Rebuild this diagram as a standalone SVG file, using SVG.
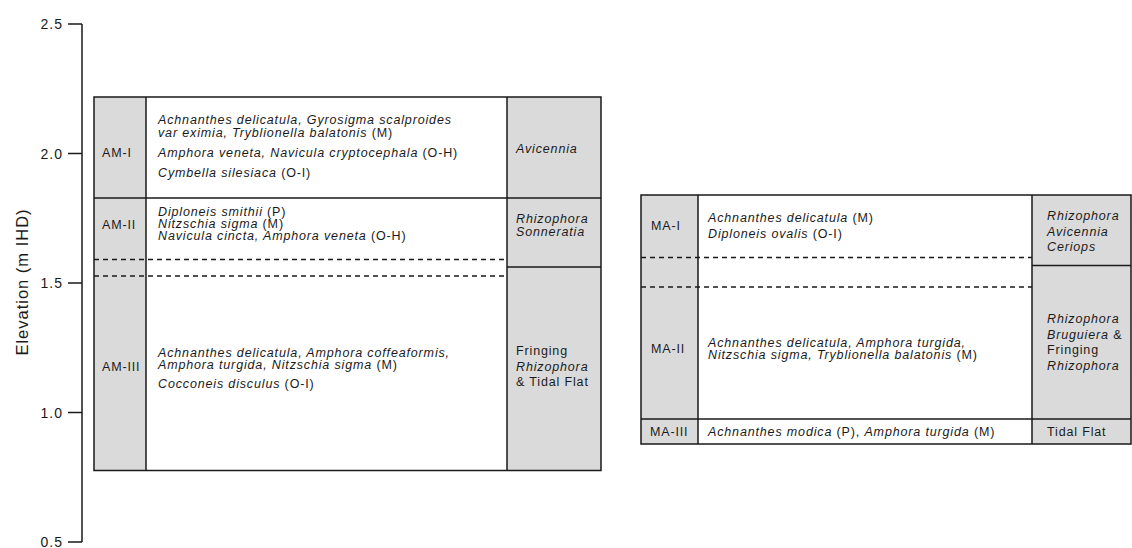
<svg xmlns="http://www.w3.org/2000/svg" width="1132" height="548" viewBox="0 0 1132 548">
<style>
text{font-family:"Liberation Sans",Arial,sans-serif;font-size:12.5px;letter-spacing:0.85px;fill:#1a1a1a}
.i{font-style:italic}
.ax{font-size:14px;letter-spacing:1px}
.ttl{font-size:16.5px;letter-spacing:1px}
.g{fill:#dadada}
.w{fill:#fff}
.ln{stroke:#1a1a1a;stroke-width:1.5;fill:none}
.ds{stroke:#1a1a1a;stroke-width:1.4;stroke-dasharray:5 4;fill:none}
</style>
<rect width="1132" height="548" fill="#fff"/>
<g id="axis">
<path class="ln" d="M82 24V542M68 24H82M68 153.5H82M68 283H82M68 412.5H82M68 542H82"/>
<text class="ax" x="63" y="29" text-anchor="end">2.5</text>
<text class="ax" x="63" y="158.5" text-anchor="end">2.0</text>
<text class="ax" x="63" y="288" text-anchor="end">1.5</text>
<text class="ax" x="63" y="417.5" text-anchor="end">1.0</text>
<text class="ax" x="63" y="547" text-anchor="end">0.5</text>
<text class="ttl" transform="translate(28 282) rotate(-90)" text-anchor="middle">Elevation (m IHD)</text>
</g>
<g id="left-table">
<rect class="g" x="94" y="97" width="52" height="373.5"/>
<rect class="w" x="146" y="97" width="361" height="373.5"/>
<rect class="g" x="507" y="97" width="94" height="373.5"/>
<path class="ln" d="M94 97H601V470.5H94ZM146 97V470.5M507 97V470.5M94 198H601M507 267H601"/>
<path class="ds" d="M94 259.5H507M94 276H507"/>
</g>
<g id="AM-I">
<text x="102" y="157">AM-I</text>
<text x="158" y="124" class="i">Achnanthes delicatula, Gyrosigma scalproides</text>
<text x="158" y="136.5"><tspan class="i">var eximia, Tryblionella balatonis</tspan> (M)</text>
<text x="158" y="157"><tspan class="i">Amphora veneta, Navicula cryptocephala</tspan> (O-H)</text>
<text x="158" y="177"><tspan class="i">Cymbella silesiaca</tspan> (O-I)</text>
<text x="516" y="153" class="i">Avicennia</text>
</g>
<g id="AM-II">
<text x="102" y="229">AM-II</text>
<text x="158" y="216"><tspan class="i">Diploneis smithii</tspan> (P)</text>
<text x="158" y="228"><tspan class="i">Nitzschia sigma</tspan> (M)</text>
<text x="158" y="240"><tspan class="i">Navicula cincta, Amphora veneta</tspan> (O-H)</text>
<text x="516" y="223" class="i">Rhizophora</text>
<text x="516" y="236" class="i">Sonneratia</text>
</g>
<g id="AM-III">
<text x="102" y="371">AM-III</text>
<text x="158" y="357" class="i">Achnanthes delicatula, Amphora coffeaformis,</text>
<text x="158" y="369"><tspan class="i">Amphora turgida, Nitzschia sigma</tspan> (M)</text>
<text x="158" y="388"><tspan class="i">Cocconeis disculus</tspan> (O-I)</text>
<text x="516" y="355">Fringing</text>
<text x="516" y="370.5" class="i">Rhizophora</text>
<text x="516" y="386">&amp; Tidal Flat</text>
</g>
<g id="right-table">
<rect class="g" x="641" y="195" width="57" height="249"/>
<rect class="w" x="698" y="195" width="334" height="249"/>
<rect class="g" x="1032" y="195" width="99" height="249"/>
<path class="ln" d="M641 195H1131V444H641ZM698 195V444M1032 195V444M641 419H1131M1032 265.5H1131"/>
<path class="ds" d="M641 257.5H1032M641 287H1032"/>
</g>
<g id="MA-I">
<text x="651" y="230">MA-I</text>
<text x="708" y="221.5"><tspan class="i">Achnanthes delicatula</tspan> (M)</text>
<text x="708" y="237.5"><tspan class="i">Diploneis ovalis</tspan> (O-I)</text>
<text x="1047" y="220" class="i">Rhizophora</text>
<text x="1047" y="235.5" class="i">Avicennia</text>
<text x="1047" y="251" class="i">Ceriops</text>
</g>
<g id="MA-II">
<text x="651" y="353">MA-II</text>
<text x="708" y="347" class="i">Achnanthes delicatula, Amphora turgida,</text>
<text x="708" y="359"><tspan class="i">Nitzschia sigma, Tryblionella balatonis</tspan> (M)</text>
<text x="1047" y="323" class="i">Rhizophora</text>
<text x="1047" y="338.5"><tspan class="i">Bruguiera</tspan> &amp;</text>
<text x="1047" y="354">Fringing</text>
<text x="1047" y="369.5" class="i">Rhizophora</text>
</g>
<g id="MA-III">
<text x="650" y="436">MA-III</text>
<text x="708" y="436"><tspan class="i">Achnanthes modica</tspan> (P), <tspan class="i">Amphora turgida</tspan> (M)</text>
<text x="1047" y="436">Tidal Flat</text>
</g>
</svg>
